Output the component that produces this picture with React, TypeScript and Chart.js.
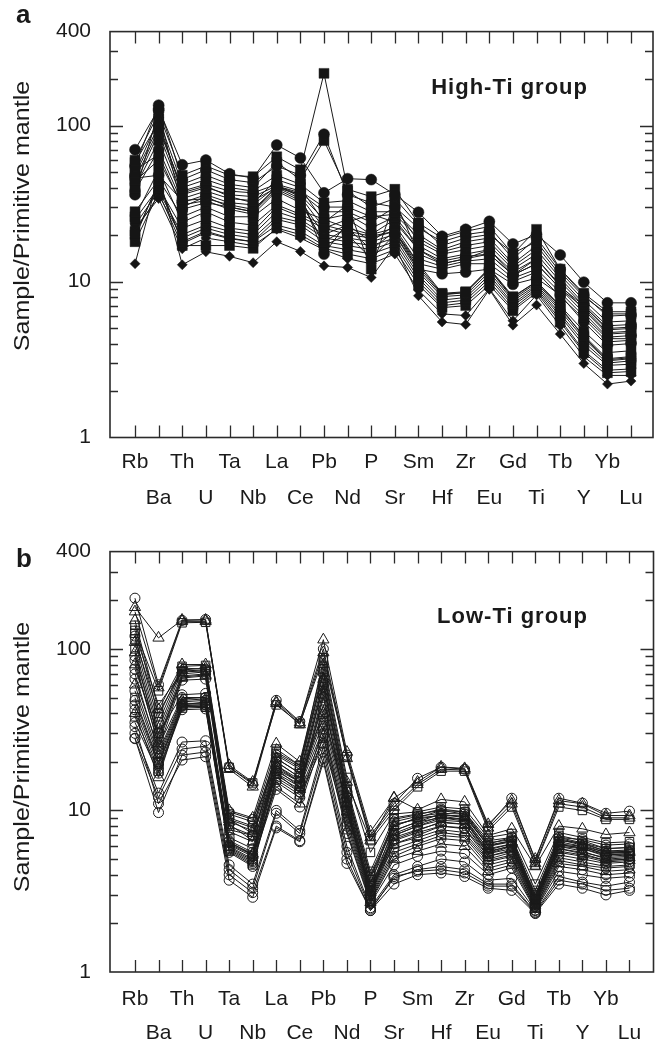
import React, { useEffect, useRef } from 'react';
import { Chart, registerables } from 'chart.js';

Chart.register(...registerables);
Chart.defaults.font.family = '"Liberation Sans", Arial, Helvetica, sans-serif';

// ---------------- categories & ticks ----------------
const elements = ['Rb', 'Ba', 'Th', 'U', 'Ta', 'Nb', 'La', 'Ce', 'Pb', 'Nd', 'P', 'Sr', 'Sm', 'Hf', 'Zr', 'Eu', 'Gd', 'Ti', 'Tb', 'Y', 'Yb', 'Lu'];
const yTickLabels = [1, 10, 100, 400];
const yMajorTicks = [10, 100];
const yMinorTicks = [2, 3, 4, 5, 6, 7, 8, 9, 20, 30, 40, 50, 60, 70, 80, 90, 200, 300];
const yAxisTitle = 'Sample/Primitive mantle';

// ---------------- (a) High-Ti group ----------------
//             Rb   Ba   Th  U   Ta  Nb  La  Ce  Pb   Nd    P   Sr  Sm    Hf    Zr    Eu    Gd    Ti    Tb    Y    Yb   Lu
const hi01 = [70, 128, 56, 60, 49, 46, 75, 62, 37, 45.6, 45, 36, 27.8, 19.5, 21.6, 24.3, 17.4, 20, 14.8, 9.9, 7.3, 7.3];
const hi02 = [60, 120, 48, 55, 48, 47, 63, 52, 216, 39, 35, 39, 23.7, 19, 21, 22.5, 15, 21.6, 12, 8.4, 6.4, 6.4];
const hi03 = [55, 135, 45, 52, 45, 43, 55, 48, 88, 36, 32, 30, 22, 18, 20, 21, 14, 19, 12, 8.2, 6, 6.1];
const hi04 = [50, 110, 42, 48, 42, 40, 58, 45, 80, 38, 30, 34, 23, 17, 19, 20, 15.2, 18, 11.5, 8, 6.2, 6.2];
const hi05 = [45, 95, 40, 45, 40, 38, 48, 42, 32, 33, 28, 28, 20, 16, 18, 19, 13, 17, 11, 7.6, 5.5, 5.6];
const hi06 = [48, 100, 38, 42, 38, 37, 42, 38, 30, 30, 26, 27, 19, 15.5, 17, 18, 12.5, 16, 10.5, 7.2, 5.2, 5.3];
const hi07 = [42, 90, 36, 40, 36, 35, 41, 37, 28, 28, 24, 30, 18, 15, 16, 17, 12, 15, 10, 7, 4.9, 5.0];
const hi08 = [40, 80, 34, 38, 34, 33, 40, 36, 25, 27, 22, 26, 17, 14, 15, 16, 11.5, 14, 9.5, 6.6, 4.6, 4.7];
const hi09 = [38, 70, 32, 36, 32, 31, 41, 35, 22, 25, 20, 25, 16, 13.5, 14.5, 15, 11, 13, 9, 6.3, 4.4, 4.5];
const hi10 = [52, 65, 30, 35, 30, 28, 39, 33, 20, 23, 18, 23, 14, 12.5, 13.5, 14, 10.5, 12, 8.5, 6, 4.3, 4.3];
const hi11 = [44, 60, 31, 33, 29, 27, 38, 32, 18, 22, 16, 21, 13, 12, 13, 13, 10, 11.5, 8, 5.8, 4.1, 4.2];
const hi12 = [46, 48, 33, 34, 31, 29, 40, 34, 17, 20, 14, 20, 12, 11.2, 11.5, 12, 9.6, 10.5, 8.2, 5.5, 3.9, 4.0];
const hi13 = [58, 105, 37, 41, 35, 32, 45, 40, 24, 31, 12, 33, 15, 13, 14, 15, 11, 13, 9, 6.8, 4.7, 4.8];
const hi14 = [36, 125, 29, 32, 30, 28, 41, 36, 15, 24, 27, 24, 16, 13, 14, 16, 11, 14, 9.3, 7, 5.0, 5.1];
const hi15 = [28, 45, 26, 30, 26, 26, 34, 28.6, 25, 22, 20, 22, 13, 8.4, 8.6, 12.2, 8, 10, 7, 4.8, 3.5, 3.6];
const hi16 = [25, 40, 22, 25, 22, 21, 30, 26, 22, 20, 19, 21, 12, 8.2, 8.5, 12, 7.7, 9.8, 6.7, 4.5, 3.2, 3.3];
const hi17 = [23, 38, 20, 23, 21, 20, 28, 25, 20, 19, 18, 20, 11.5, 8, 8.2, 11.5, 7.5, 9.5, 6.5, 4.3, 3.1, 3.2];
const hi18 = [21, 36, 19, 22, 20, 19, 26, 24, 19, 18, 17, 19, 11, 7.6, 7.9, 11, 7.2, 9.3, 6.2, 4.1, 3.0, 3.1];
const hi19 = [20, 42, 18, 21, 19, 18, 25, 23, 18, 17, 16, 18, 10.5, 7.3, 7.6, 10.5, 7, 9, 6, 3.9, 2.9, 2.95];
const hi20 = [19, 44, 17.5, 20.6, 18.8, 18, 23, 21, 17, 16, 15, 17, 10, 7, 7.3, 10, 6.7, 8.8, 5.7, 3.6, 2.7, 2.75];
const hi21 = [18, 37, 17, 17, 17, 16.3, 22, 20, 16.3, 15, 14, 16, 9.5, 6.8, 7, 9.5, 6.5, 8.5, 5.5, 3.5, 2.6, 2.65];
const hi22 = [22, 34, 16.2, 19, 18, 17, 21.6, 19, 16, 14, 13, 15, 8.8, 6.2, 6.05, 9, 5.6, 8.2, 5.2, 3.3, 2.5, 2.5];
const hi23 = [13, 48, 12.8, 15.5, 14.5, 13.2, 18, 15.6, 12.6, 12.3, 10.6, 17, 8.1, 5.5, 5.3, 8.9, 5.25, 7.06, 4.6, 2.98, 2.2, 2.3];
const hi24 = [26, 52, 24, 28, 24, 23, 31, 27, 23, 21, 19.5, 21, 12.5, 8.3, 8.5, 12, 7.9, 10, 6.9, 4.4, 3.15, 3.25];

const highTiSeries = [hi01, hi02, hi03, hi04, hi05, hi06, hi07, hi08, hi09, hi10, hi11, hi12, hi13, hi14, hi15, hi16, hi17, hi18, hi19, hi20, hi21, hi22, hi23, hi24];
const highTiMarkers = ['circle', 'rect', 'circle', 'rect', 'rect', 'circle', 'rect', 'rect', 'circle', 'rect', 'rect', 'circle', 'rect', 'circle',
  'rect', 'rect', 'rectRot', 'rect', 'rect', 'rectRot', 'rect', 'rectRot', 'rectRot', 'rect'];

// ---------------- (b) Low-Ti group ----------------
//             Rb    Ba   Th   U    Ta   Nb   La   Ce   Pb   Nd   P    Sr    Sm    Hf    Zr    Eu   Gd    Ti   Tb    Y     Yb   Lu
const lo01 = [181, 117, 151, 151, 19, 15, 47, 35, 114, 23, 7.4, 11.9, 15, 18.6, 18.2, 8.2, 11.5, 5, 11.5, 11, 9.3, 9.3];
const lo02 = [206, 60, 150, 152, 18.5, 14.5, 48, 35.5, 100, 22, 7, 11, 15.8, 18.5, 18, 8, 11.9, 4.9, 11.9, 11.1, 9.6, 9.9];
const lo03 = [170, 57.6, 148, 148, 18, 14, 46, 34, 95, 21, 6.8, 10.5, 14.5, 18, 17.8, 7.8, 11, 4.7, 11, 10.5, 9, 9];
const lo04 = [130, 55, 145, 146, 18.5, 14.8, 45, 34.5, 88, 21.5, 6.5, 10, 14, 17.5, 17.5, 7.5, 10.5, 4.6, 10.5, 10, 8.8, 8.8];
const lo05 = [150, 42, 80, 80, 10, 9, 25.9, 20, 80, 15, 6.5, 12, 10.1, 11.7, 11.3, 7, 7.7, 4.5, 8, 7.7, 7.1, 7.3];
const lo06 = [140, 38, 78, 79, 9.5, 8.5, 24, 19, 75, 14, 4.2, 9, 9.5, 10, 9.8, 6.5, 6.8, 3.2, 7, 6.5, 5.8, 5.9];
const lo07 = [120, 35, 76, 75, 9, 8, 22, 18, 70, 13, 4, 8.5, 9.2, 9.6, 9.5, 6.3, 6.6, 3, 6.8, 6.3, 5.6, 5.7];
const lo08 = [110, 32, 74, 76, 8.5, 7.5, 21, 17, 65, 12.5, 3.8, 8, 9, 9.3, 9.2, 6, 6.4, 2.9, 6.6, 6.1, 5.5, 5.5];
const lo09 = [100, 30, 70, 72, 8, 7, 20, 16, 62, 12, 3.6, 7.5, 8.5, 9, 8.8, 5.8, 6.2, 2.85, 6.4, 6, 5.3, 5.4];
const lo10 = [90, 28, 68, 70, 9.8, 8.8, 19, 15, 60, 11.5, 3.4, 7, 8, 8.7, 8.5, 5.6, 6, 2.8, 6.2, 5.8, 5.2, 5.3];
const lo11 = [80, 26, 66, 68, 8.8, 7.2, 18, 14, 55, 11, 3.3, 6.8, 7.6, 8.4, 8.2, 5.4, 5.8, 2.75, 6, 5.6, 5, 5.1];
const lo12 = [65, 24, 64, 65, 7.6, 7, 17, 13, 50, 10, 3.2, 6.5, 7.3, 8, 7.8, 5.2, 5.6, 2.7, 5.8, 5.4, 4.9, 5];
const lo13 = [85, 25, 50, 50, 6.5, 5.5, 20, 16, 45, 12, 3.2, 8, 9, 10, 9.5, 6, 6.5, 2.8, 6.5, 6.3, 5.8, 5.9];
const lo14 = [60, 22, 48, 49, 6.3, 5.4, 19, 15.5, 40, 11, 3.1, 7.5, 8.5, 9.5, 9, 5.7, 6.2, 2.75, 6.2, 6, 5.5, 5.6];
const lo15 = [55, 21, 47, 48, 6.1, 5.2, 18, 15, 38, 10.5, 3, 7, 8, 9, 8.6, 5.4, 6, 2.7, 6, 5.8, 5.3, 5.4];
const lo16 = [50, 20, 46, 46, 6, 5, 17.5, 14.5, 35, 10, 2.95, 6.6, 7.5, 8.5, 8.2, 5.2, 5.7, 2.65, 5.8, 5.5, 5.1, 5.2];
const lo17 = [45, 19, 45, 45, 5.9, 4.9, 17, 14, 32, 9.5, 2.9, 6.2, 7, 8, 7.7, 5, 5.5, 2.6, 5.6, 5.3, 4.9, 5];
const lo18 = [42, 18, 44, 44, 5.7, 4.7, 16, 13, 30, 9, 2.85, 5.8, 6.5, 7.3, 7, 4.8, 5.2, 2.55, 5.3, 5, 4.7, 4.8];
const lo19 = [38, 17.5, 43, 43.5, 5.6, 4.6, 15.5, 12.5, 28, 8.5, 2.8, 5.5, 6.2, 7, 6.8, 4.6, 5, 2.5, 5.1, 4.8, 4.5, 4.6];
const lo20 = [35, 17, 42, 42.5, 5.5, 4.5, 15, 12, 26, 8, 2.75, 5.2, 6, 6.7, 6.5, 4.4, 4.8, 2.5, 4.9, 4.6, 4.4, 4.5];
const lo21 = [40, 16, 45, 47, 6.2, 5.3, 14, 11, 33, 7.5, 2.7, 5, 5.6, 6.2, 6, 4.2, 4.6, 2.45, 4.7, 4.5, 4.2, 4.3];
const lo22 = [30, 12.8, 26.5, 27, 4.6, 3.5, 10, 7.5, 25, 6, 2.5, 4, 4.5, 5, 4.8, 3.7, 3.8, 2.4, 4.2, 4, 3.8, 3.9];
const lo23 = [27.8, 12, 24, 25, 4.3, 3.3, 9.6, 7.2, 23, 5.5, 2.45, 3.8, 4.3, 4.5, 4.3, 3.5, 3.5, 2.35, 3.9, 3.6, 3.4, 3.6];
const lo24 = [28, 9.7, 22, 23, 4, 3.1, 8, 6.5, 21, 5, 2.4, 3.5, 4, 4.1, 3.9, 3.3, 3.2, 2.3, 3.5, 3.3, 3, 3.2];
const lo25 = [33, 11, 20.5, 21.5, 3.7, 2.9, 7.8, 6.4, 20, 4.7, 2.4, 3.9, 4.2, 4.3, 4.1, 3.4, 3.4, 2.32, 3.7, 3.5, 3.2, 3.3];
const lo26 = [125, 45, 72, 73, 8.2, 6.5, 23, 19, 85, 16, 5.5, 9.5, 9.8, 10.5, 10.2, 6.8, 7.2, 3.5, 7.3, 6.8, 6.3, 6.4];
const lo27 = [75, 30, 52, 53, 6.8, 5.8, 21, 17, 58, 13, 3.5, 8.8, 9.4, 10.2, 9.8, 6.2, 6.8, 2.9, 6.8, 6.6, 6.1, 6.2];
const lo28 = [115, 40, 73, 74, 8.8, 7.8, 22.5, 18.5, 72, 13.5, 3.9, 8.2, 8.8, 9.4, 9.2, 6.1, 6.5, 3.0, 6.7, 6.2, 5.6, 5.6];
const lo29 = [70, 23, 49, 50, 6.4, 5.3, 18.5, 15, 42, 10.8, 3.05, 7.2, 8.2, 9.2, 8.8, 5.5, 6.1, 2.72, 6.1, 5.9, 5.4, 5.5];
const lo30 = [95, 27, 67, 69, 7.4, 6.4, 16.5, 13.5, 52, 9.8, 3.1, 6.2, 6.8, 7.6, 7.3, 4.9, 5.3, 2.6, 5.5, 5.2, 4.8, 4.9];
const lo31 = [48, 19.5, 44.5, 45, 5.8, 4.8, 13.5, 10.5, 29, 7.2, 2.65, 4.6, 5.2, 5.6, 5.4, 4.0, 4.4, 2.42, 4.5, 4.3, 4.0, 4.1];

const lowTiSeries = [lo01, lo02, lo03, lo04, lo05, lo06, lo07, lo08, lo09, lo10, lo11, lo12, lo13, lo14, lo15, lo16, lo17, lo18, lo19, lo20, lo21, lo22, lo23, lo24, lo25, lo26, lo27, lo28, lo29, lo30, lo31];
const lowTiMarkers = ['triangle', 'circle', 'triangle', 'rect', 'triangle', 'rect', 'circle', 'triangle', 'rect', 'circle', 'triangle', 'circle',
  'circle', 'triangle', 'circle', 'rect', 'circle', 'circle', 'rect', 'circle', 'triangle', 'circle', 'circle', 'circle', 'circle', 'rect', 'circle',
  'rect', 'circle', 'triangle', 'circle'];

// ---------------- panel layout ----------------
type PanelDef = {
  series: number[][];
  markers: string[];
  filled: boolean;
  height: number;
  top: number;
  bottom: number;
  right: number;
  xMax: number;
  letter: string;
  letterBase: number;
  group: string;
  groupY: number;
  titleY: number;
  labelPad: number;
  labelLine: number;
};

const panels: PanelDef[] = [
  {
    series: highTiSeries, markers: highTiMarkers, filled: true,
    height: 520, top: 14, bottom: 437.5, right: 653, xMax: 21.93,
    letter: 'a', letterBase: 23, group: 'High-Ti group', groupY: 88, titleY: 216,
    labelPad: 7.5, labelLine: 35.3,
  },
  {
    series: lowTiSeries, markers: lowTiMarkers, filled: false,
    height: 526, top: 28, bottom: 452, right: 655, xMax: 22.02,
    letter: 'b', letterBase: 46.5, group: 'Low-Ti group', groupY: 97, titleY: 237,
    labelPad: 10, labelLine: 34,
  },
];

const W = 661;
const PLOT_LEFT = 110;
const FONT = '"Liberation Sans", Arial, Helvetica, sans-serif';

function markerRadius(style: string, filled: boolean): number {
  if (filled) {
    if (style === 'rect') return 7;
    if (style === 'rectRot') return 5;
    return 5.5;
  }
  if (style === 'rect') return 6;
  if (style === 'triangle') return 6.5;
  return 5;
}

function decoPlugin(p: PanelDef) {
  return {
    id: 'deco',
    beforeDatasetsDraw(chart: any) {
      const { ctx, chartArea } = chart;
      const { left, top, right, bottom } = chartArea;
      const xs = chart.scales.x;
      const ys = chart.scales.y;
      ctx.save();
      ctx.strokeStyle = '#2b2b2b';
      ctx.lineWidth = 1.3;
      ctx.beginPath();
      elements.forEach((_, i) => {
        const px = Math.round(xs.getPixelForValue(i)) + 0.5;
        ctx.moveTo(px, top);
        ctx.lineTo(px, top + 12);
        ctx.moveTo(px, bottom);
        ctx.lineTo(px, bottom - 12);
      });
      yMajorTicks.forEach((v) => {
        const py = Math.round(ys.getPixelForValue(v)) + 0.5;
        ctx.moveTo(left, py);
        ctx.lineTo(left + 13, py);
        ctx.moveTo(right, py);
        ctx.lineTo(right - 13, py);
      });
      yMinorTicks.forEach((v) => {
        const py = Math.round(ys.getPixelForValue(v)) + 0.5;
        ctx.moveTo(left, py);
        ctx.lineTo(left + 8, py);
        ctx.moveTo(right, py);
        ctx.lineTo(right - 8, py);
      });
      ctx.stroke();
      ctx.lineWidth = 1.6;
      ctx.strokeStyle = '#2b2b2b';
      ctx.strokeRect(left, top, right - left, bottom - top);
      ctx.restore();
    },
    afterDraw(chart: any) {
      const { ctx } = chart;
      ctx.save();
      ctx.fillStyle = '#1a1a1a';
      // y axis title
      ctx.save();
      ctx.translate(22.5, p.titleY);
      ctx.rotate(-Math.PI / 2);
      ctx.scale(1.14, 1);
      ctx.font = `22px ${FONT}`;
      ctx.textAlign = 'center';
      ctx.textBaseline = 'middle';
      ctx.fillText(yAxisTitle, 0, 0);
      ctx.restore();
      // panel letter
      ctx.font = `bold 26px ${FONT}`;
      ctx.textAlign = 'left';
      ctx.textBaseline = 'alphabetic';
      ctx.fillText(p.letter, 16, p.letterBase);
      // group label
      ctx.font = `bold 22px ${FONT}`;
      ctx.textAlign = 'right';
      ctx.textBaseline = 'middle';
      try { (ctx as any).letterSpacing = '1px'; } catch (e) { /* ignore */ }
      ctx.fillText(p.group, 588, p.groupY);
      ctx.restore();
    },
  };
}

function buildConfig(p: PanelDef): any {
  const datasets = p.series.map((vals, k) => {
    const style = p.markers[k];
    return {
      label: `s${k + 1}`,
      data: vals.map((v, i) => ({ x: i, y: v })),
      borderColor: '#1a1a1a',
      borderWidth: 1,
      pointStyle: style,
      pointRadius: markerRadius(style, p.filled),
      pointBorderColor: '#1a1a1a',
      pointBorderWidth: p.filled ? 0.5 : 1,
      pointBackgroundColor: p.filled ? '#151515' : 'rgba(255,255,255,0)',
      tension: 0,
      fill: false,
    };
  });
  return {
    type: 'line',
    data: { datasets },
    options: {
      animation: false,
      responsive: false,
      devicePixelRatio: 1,
      events: [],
      layout: { padding: { left: 0, top: p.top, right: W - p.right, bottom: 0 } },
      plugins: { legend: { display: false }, tooltip: { enabled: false }, title: { display: false } },
      scales: {
        x: {
          type: 'linear',
          min: -1.06,
          max: p.xMax,
          grid: { display: false, drawTicks: false },
          border: { display: false },
          afterBuildTicks: (s: any) => { s.ticks = elements.map((_, i) => ({ value: i })); },
          afterFit: (s: any) => { s.height = p.height - p.bottom; },
          ticks: {
            autoSkip: false,
            maxRotation: 0,
            minRotation: 0,
            padding: p.labelPad,
            color: '#1a1a1a',
            font: { size: 21, family: FONT, lineHeight: p.labelLine / 21 },
            callback: (v: any) => {
              const i = Math.round(Number(v));
              const name = elements[i] ?? '';
              return i % 2 === 0 ? [name, ''] : ['', name];
            },
          },
        },
        y: {
          type: 'logarithmic',
          min: 1,
          max: 400,
          grid: { display: false, drawTicks: false },
          border: { display: false },
          afterBuildTicks: (s: any) => { s.ticks = yTickLabels.map((v) => ({ value: v })); },
          afterFit: (s: any) => { s.width = PLOT_LEFT; },
          ticks: {
            padding: 19,
            color: '#1a1a1a',
            font: { size: 21, family: FONT },
            callback: (v: any) => String(v),
          },
        },
      },
    },
    plugins: [decoPlugin(p)],
  };
}

function Panel({ p }: { p: PanelDef }) {
  const ref = useRef<HTMLCanvasElement | null>(null);
  useEffect(() => {
    if (!ref.current) return;
    const chart = new Chart(ref.current, buildConfig(p));
    return () => chart.destroy();
  }, [p]);
  return (
    <canvas
      ref={ref}
      width={W}
      height={p.height}
      style={{ display: 'block', width: W, height: p.height }}
    />
  );
}

export default function App() {
  return (
    <div style={{ position: 'absolute', left: 0, top: 0, width: W, height: 1046, background: '#fff' }}>
      {panels.map((p) => (
        <Panel key={p.letter} p={p} />
      ))}
    </div>
  );
}
